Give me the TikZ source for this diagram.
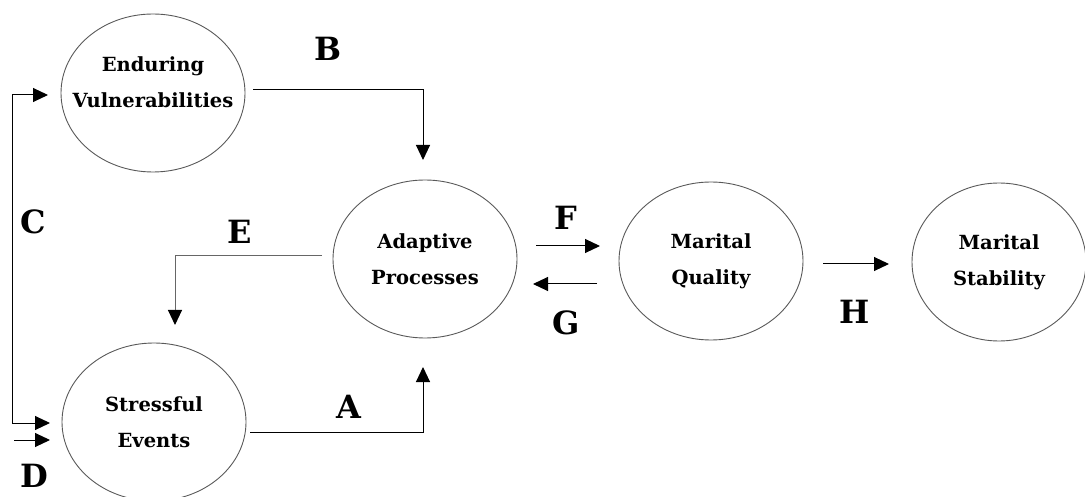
\documentclass[tikz,border=0pt]{standalone}
\usepackage{fontspec}
\setmainfont{DejaVu Serif}
\usetikzlibrary{arrows.meta,shapes.geometric}
\begin{document}
\begin{tikzpicture}[x=1pt,y=-1pt,
  oval/.style={draw=black!65,line width=0.9pt,ellipse,minimum width=184pt,minimum height=158pt,inner sep=0pt},
  ovaltext/.style={font=\fontsize{19.5}{36}\selectfont\bfseries,align=center,inner sep=0pt},
  letter/.style={font=\fontsize{32}{32}\selectfont\bfseries,inner sep=0pt},
  conn/.style={line width=1pt,draw=black,-{Triangle[length=15pt,width=14pt,color=black]}}]
\useasboundingbox (0,0) rectangle (1085,497);
\node[oval] (en) at (153,93) {};
\node[ovaltext] (ent) at (153,82) {Enduring\\Vulnerabilities};
\node[oval,ovaltext] (st) at (154,422) {Stressful\\Events};
\node[oval,ovaltext] (ad) at (425,259) {Adaptive\\Processes};
\node[oval,ovaltext] (mq) at (711,261) {Marital\\Quality};
\node[oval,ovaltext,minimum width=174pt] (ms) at (999,262) {Marital\\Stability};
% labels
\node[letter] (lB) at (328,49) {B};
\node[letter] (lC) at (33,222) {C};
\node[letter] (lE) at (240,232) {E};
\node[letter] (lF) at (566,218) {F};
\node[letter] (lG) at (566,323) {G};
\node[letter] (lA) at (349,407) {A};
\node[letter] (lD) at (34,476) {D};
\node[letter] (lH) at (855,312) {H};
% coordinates
\coordinate (bS) at (253,90);
\coordinate (bT) at (423,160);
\coordinate (aS) at (250,432);
\coordinate (aT) at (423,367);
\coordinate (eS) at (322,256);
\coordinate (eT) at (175,325);
\coordinate (cX) at (12,95);
\coordinate (cY) at (12,423);
\coordinate (cT1) at (48,95);
\coordinate (cT2) at (50,423);
\coordinate (dS) at (14,440);
\coordinate (dT) at (50,440);
\coordinate (fS) at (536,246);
\coordinate (fT) at (600,246);
\coordinate (gS) at (597,284);
\coordinate (gT) at (533,284);
\coordinate (hS) at (823,264);
\coordinate (hT) at (889,264);
% connectors
\draw[conn] (bS) -| (bT);
\draw[conn] (aS) -| (aT);
\draw[conn,draw=black!60] (eS) -| (eT);
\draw[conn] (cX) -- (cT1);
\draw[conn] (cX) |- (cT2);
\draw[conn] (dS) -- (dT);
\draw[conn] (fS) -- (fT);
\draw[conn] (gS) -- (gT);
\draw[conn] (hS) -- (hT);
\end{tikzpicture}
\end{document}
